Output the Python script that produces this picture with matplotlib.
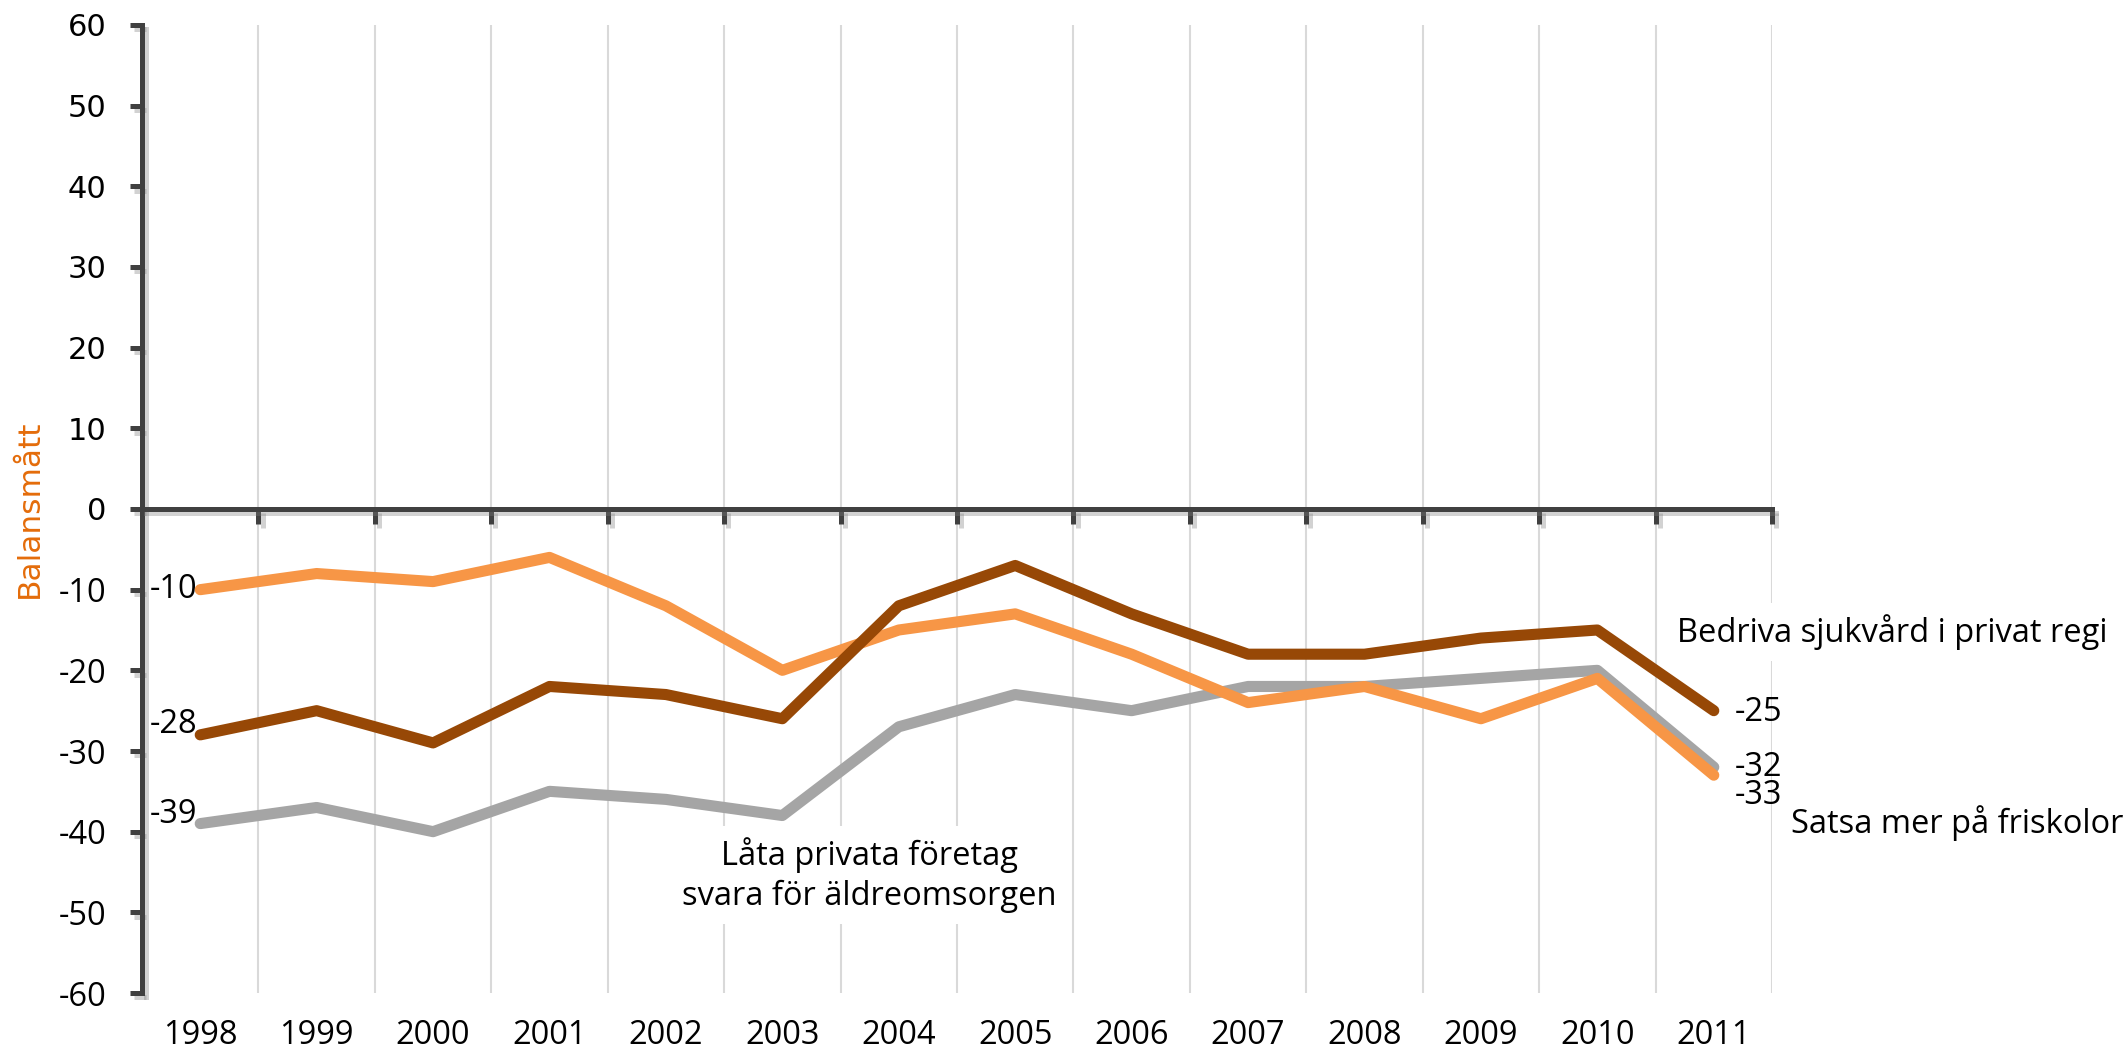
import numpy as np
import matplotlib.pyplot as plt
import matplotlib.patheffects as pe

# Opinion balance, 1998-2011
years = ["1998", "1999", "2000", "2001", "2002", "2003", "2004",
         "2005", "2006", "2007", "2008", "2009", "2010", "2011"]
friskolor = [-10, -8, -9, -6, -12, -20, -15, -13, -18, -24, -22, -26, -21, -33]
sjukvard = [-28, -25, -29, -22, -23, -26, -12, -7, -13, -18, -18, -16, -15, -25]
aldreomsorg = [-39, -37, -40, -35, -36, -38, -27, -23, -25, -22, -22, -21, -20, -32]
yticks = list(range(-60, 61, 10))

ORANGE = "#F79646"
BROWN = "#974806"
GRAY = "#A5A5A5"
AXIS = "#404040"
BODY = ["Open Sans", "DejaVu Sans"]

W, H = 2124, 1057
fig = plt.figure(figsize=(W / 100, H / 100), dpi=100)
ax = fig.add_axes([142 / W, 64 / H, (1772 - 142) / W, (1032 - 64) / H])

x = np.arange(len(years))
shadow = [pe.SimpleLineShadow(offset=(3, -3), shadow_color="#7f7f7f", alpha=0.35), pe.Normal()]

# grid lines sit between categories, like Excel
gridpos = np.arange(len(years)) + 0.5
ax.set_xlim(-0.5, len(years) - 0.5)
ax.set_ylim(-60, 60)
ax.set_xticks(gridpos, [""] * len(gridpos))
ax.grid(axis="x", color="#D9D9D9", lw=1.5, zorder=0)
ax.set_axisbelow(True)

for s in ["top", "right"]:
    ax.spines[s].set_visible(False)
ax.spines["bottom"].set_position(("data", 0))
for s in ["bottom", "left"]:
    ax.spines[s].set_color(AXIS)
    ax.spines[s].set_linewidth(3.6)
    ax.spines[s].set_path_effects(shadow)
    ax.spines[s].set_zorder(3)
ax.tick_params(axis="x", direction="out", length=11, width=3.6, color=AXIS)
ax.tick_params(axis="y", direction="out", length=8.6, width=3.6, color=AXIS, pad=17)
for t in ax.xaxis.get_major_ticks() + ax.yaxis.get_major_ticks():
    t.tick1line.set_path_effects(shadow)

ax.set_yticks(yticks, [str(v) for v in yticks])
for t, v in zip(ax.yaxis.get_major_ticks(), yticks):
    if v >= 0:
        t.label1.set_fontfamily(["DejaVu Sans"])
        t.label1.set_fontsize(22)
    else:
        t.label1.set_fontfamily(BODY)
        t.label1.set_fontsize(23.5)
    t.label1.set_color("black")

# year labels along the bottom of the plot area
sec = ax.secondary_xaxis("bottom")
sec.set_xticks(x, years)
sec.spines["bottom"].set_visible(False)
sec.tick_params(length=0, pad=19, labelsize=23.5)
for lbl in sec.get_xticklabels():
    lbl.set_fontfamily(BODY)

ax.set_ylabel("Balansmått", color="#E46C0A", fontsize=22.5, family="DejaVu Sans")
ax.yaxis.set_label_coords(-0.060, 0.5)

for vals, col in [(aldreomsorg, GRAY), (friskolor, ORANGE), (sjukvard, BROWN)]:
    ax.plot(x, vals, color=col, lw=8, solid_capstyle="round",
            solid_joinstyle="round", zorder=4)

# end-point labels
lab = dict(fontsize=23.5, family=BODY, color="black", textcoords="offset pixels",
           va="center", annotation_clip=False)
for vals, dy in [(friskolor, 0), (sjukvard, 10), (aldreomsorg, 9)]:
    ax.annotate(str(vals[0]), (x[0], vals[0]), xytext=(-3, dy), ha="right", **lab)
for vals, dy in [(sjukvard, -2), (aldreomsorg, 0), (friskolor, -20)]:
    ax.annotate(str(vals[-1]), (x[-1], vals[-1]), xytext=(21, dy), ha="left", **lab)

box = dict(facecolor="white", edgecolor="none", pad=8)
ax.text(12.68, -15.3, "Bedriva sjukvård i privat regi", fontsize=23.5, family=BODY,
        ha="left", va="center", bbox=box, zorder=5)
ax.text(13.66, -38.9, "Satsa mer på friskolor", fontsize=23.5, family=BODY,
        ha="left", va="center", zorder=5)
ax.text(5.75, -45.4, "Låta privata företag\nsvara för äldreomsorgen", fontsize=23.5,
        family=BODY, ha="center", va="center", multialignment="center",
        linespacing=1.25, bbox=box, zorder=5)

fig.savefig("out.png", dpi=100)
